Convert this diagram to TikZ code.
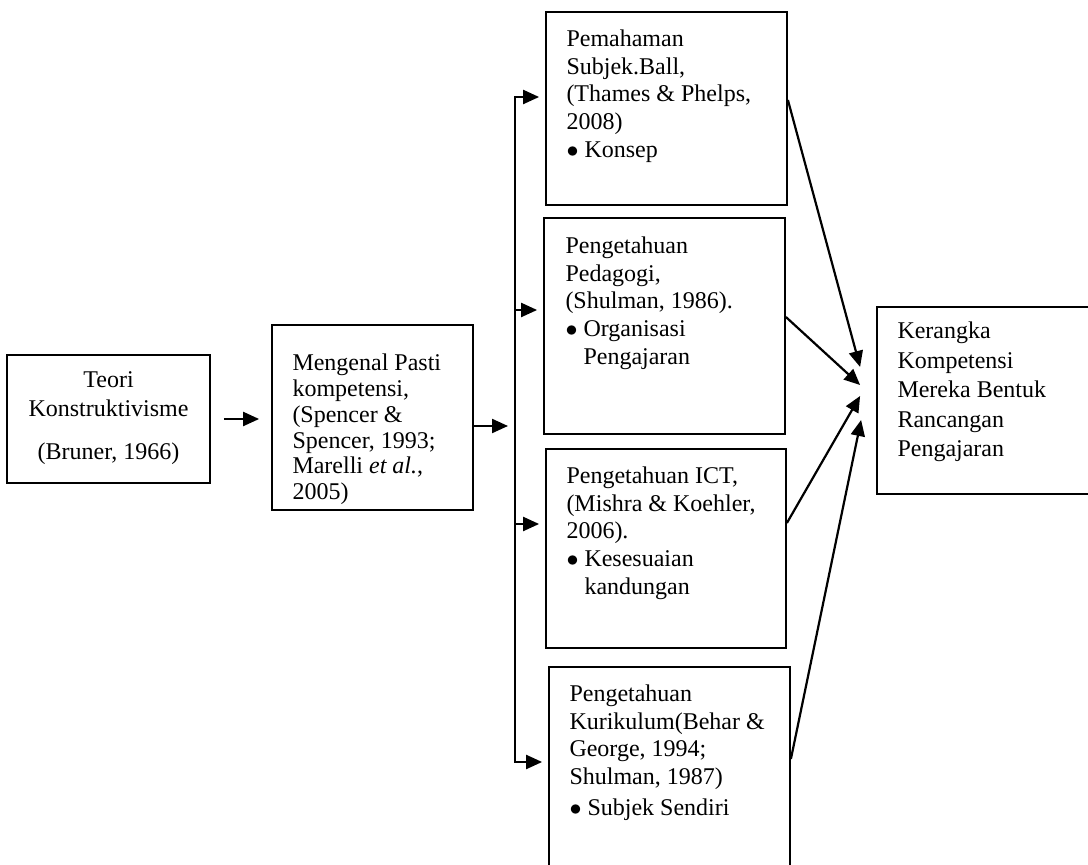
\documentclass[tikz,border=0pt]{standalone}
\usepackage{fontspec}
\setmainfont{Liberation Serif}
\usetikzlibrary{arrows.meta, positioning, fit, calc}
\newcommand{\itembul}{$\bullet$\ }
\tikzset{
	frame-node/.style={
		rectangle,
		draw=black, line width=0.9pt,
		inner sep=0pt,
	},
	frame-text/.style={
		inner sep=0pt,
		align=left,
		anchor=north west,
		font=\fontsize{12}{13.8}\selectfont,
	},
	edge-style/.style   = {line width=1.1pt, -{Triangle[length=8pt,width=7pt]}},
	trunk-style/.style  = {line width=1.1pt, line cap=rect},
}
\begin{document}
\begin{tikzpicture}[x=0.5pt, y=-0.5pt]
	\useasboundingbox (0,0) rectangle (1088,865);
	% boxes
	\node (teori) [frame-node, fit={(7,355) (210,483)}] {};
	\node (meng) [frame-node, fit={(272,325) (473,510)}] {};
	\node (sub) [frame-node, fit={(546,12) (787,205)}] {};
	\node (ped) [frame-node, fit={(544,218) (785,434)}] {};
	\node (ict) [frame-node, fit={(546,449) (786,648)}] {};
	\node (kur) [frame-node, fit={(549,667) (790,890)}] {};
	\node (goal) [frame-node, fit={(877,307) (1100,494)}] {};
	% texts
	\node (teori-txt) [frame-text, align=center, font=\fontsize{12}{14.5}\selectfont, below=8.8pt of teori.north] {Teori\\Konstruktivisme\\[7pt](Bruner, 1966)};
	\node (meng-txt) [frame-text, font=\fontsize{12}{12.9}\selectfont, below right=14.8pt and 10.5pt of meng.north west] {Mengenal Pasti\\kompetensi,\\(Spencer \&\\Spencer, 1993;\\Marelli \textit{et al.},\\2005)};
	\node (sub-txt) [frame-text, below right=9.3pt and 10.5pt of sub.north west] {Pemahaman\\Subjek.Ball,\\(Thames \& Phelps,\\2008)\\\itembul Konsep};
	\node (ped-txt) [frame-text, below right=9.8pt and 11pt of ped.north west] {Pengetahuan\\Pedagogi,\\(Shulman, 1986).\\\itembul Organisasi\\\hphantom{\itembul}Pengajaran};
	\node (ict-txt) [frame-text, below right=9.3pt and 10.5pt of ict.north west] {Pengetahuan ICT,\\(Mishra \& Koehler,\\2006).\\\itembul Kesesuaian\\\hphantom{\itembul}kandungan};
	\node (kur-txt) [frame-text, below right=9.3pt and 10.5pt of kur.north west] {Pengetahuan\\Kurikulum(Behar \&\\George, 1994;\\Shulman, 1987)\\[1.5pt]\itembul Subjek Sendiri};
	\node (goal-txt) [frame-text, font=\fontsize{12}{14.75}\selectfont, below right=7.8pt and 10.5pt of goal.north west] {Kerangka\\Kompetensi\\Mereka Bentuk\\Rancangan\\Pengajaran};
	% teori -> meng -> trunk
	\draw[edge-style, shorten <=6.5pt, shorten >=6pt] (teori.east) -- (teori.east -| meng.west);
	\coordinate (join) at (515,426);
	\draw[edge-style, shorten >=3.5pt] (meng.east |- join) -- (join);
	% trunk and branches
	\coordinate (trunk-top) at (515,97);
	\coordinate (trunk-bot) at (515,762);
	\draw[trunk-style] (trunk-top) -- (trunk-bot);
	\foreach \y/\b in {97/sub, 310/ped, 524/ict, 762/kur}{
		\coordinate (br) at (515,\y);
		\draw[edge-style, shorten >=3pt] (br) -- (br -| \b.west);
	}
	% into the framework
	\draw[edge-style] ($(sub.east)+(0,-8.5)$) -- ($(goal.west)+(-16,-33.5)$);
	\draw[edge-style] ($(ped.east)+(0,-9)$) -- ($(goal.west)+(-16,-15.5)$);
	\draw[edge-style] ($(ict.east)+(0,-25.5)$) -- ($(goal.west)+(-16,-4.5)$);
	\draw[edge-style] ($(kur.east)+(0,-19.5)$) -- ($(goal.west)+(-15,19.5)$);
\end{tikzpicture}
\end{document}
